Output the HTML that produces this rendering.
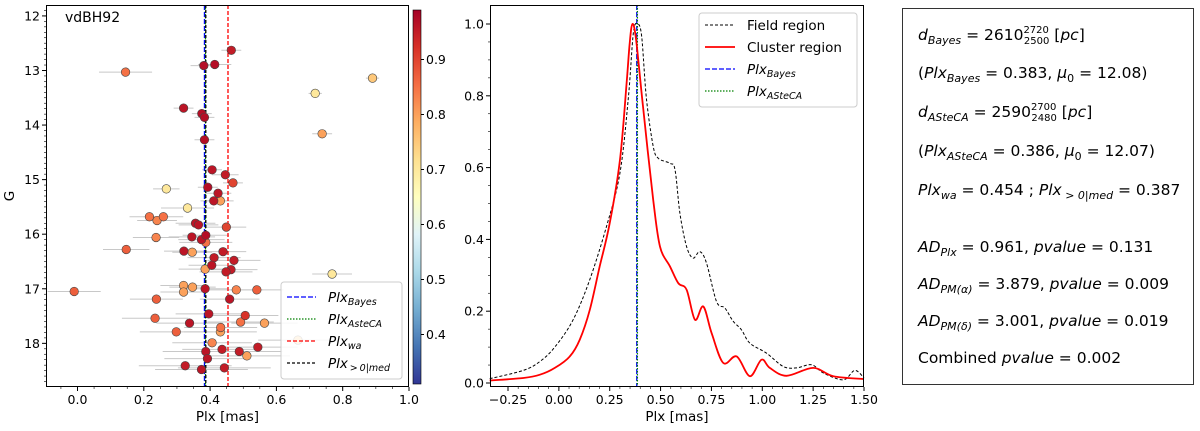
<!DOCTYPE html>
<html><head><meta charset="utf-8"><style>
html,body{margin:0;padding:0;background:#fff;width:1200px;height:431px;overflow:hidden}
svg{display:block;font-family:"DejaVu Sans","Liberation Sans",sans-serif}
</style></head><body>
<svg id="fig" width="1200" height="431" viewBox="0 0 1200 431" xmlns="http://www.w3.org/2000/svg">
<defs>
<linearGradient id="cmap" x1="0" y1="1" x2="0" y2="0">
<stop offset="0" stop-color="#313695"/><stop offset="0.1" stop-color="#4575b4"/><stop offset="0.2" stop-color="#74add1"/><stop offset="0.3" stop-color="#abd9e9"/><stop offset="0.4" stop-color="#e0f3f8"/><stop offset="0.5" stop-color="#ffffbf"/><stop offset="0.6" stop-color="#fee090"/><stop offset="0.7" stop-color="#fdae61"/><stop offset="0.8" stop-color="#f46d43"/><stop offset="0.9" stop-color="#d73027"/><stop offset="1" stop-color="#a50026"/>
</linearGradient>
</defs>
<g id="left"></g>
<g id="mid"></g>
<g id="right">
<rect x="902.5" y="8.5" width="291" height="376" fill="#fff" stroke="#333" stroke-width="1"/>
<g font-size="15.5" fill="#000">
<text x="918" y="40"><tspan font-style="italic">d</tspan><tspan font-style="italic" font-size="11" dy="4">Bayes</tspan><tspan dy="-4"> = 2610</tspan><tspan font-size="10" dy="-7">2720</tspan><tspan font-size="10" dx="-25" dy="11">2500</tspan><tspan dy="-4"> [</tspan><tspan font-style="italic">pc</tspan>]</text>
<text x="918" y="78">(<tspan font-style="italic">Plx</tspan><tspan font-style="italic" font-size="11" dy="4">Bayes</tspan><tspan dy="-4"> = 0.383, </tspan><tspan font-style="italic">μ</tspan><tspan font-size="11" dy="4">0</tspan><tspan dy="-4"> = 12.08)</tspan></text>
<text x="918" y="117"><tspan font-style="italic">d</tspan><tspan font-style="italic" font-size="11" dy="4">ASteCA</tspan><tspan dy="-4"> = 2590</tspan><tspan font-size="10" dy="-7">2700</tspan><tspan font-size="10" dx="-25" dy="11">2480</tspan><tspan dy="-4"> [</tspan><tspan font-style="italic">pc</tspan>]</text>
<text x="918" y="156">(<tspan font-style="italic">Plx</tspan><tspan font-style="italic" font-size="11" dy="4">ASteCA</tspan><tspan dy="-4"> = 0.386, </tspan><tspan font-style="italic">μ</tspan><tspan font-size="11" dy="4">0</tspan><tspan dy="-4"> = 12.07)</tspan></text>
<text x="918" y="195"><tspan font-style="italic">Plx</tspan><tspan font-style="italic" font-size="11" dy="4">wa</tspan><tspan dy="-4"> = 0.454 ; </tspan><tspan font-style="italic">Plx</tspan><tspan font-style="italic" font-size="11" dy="4"> &gt; 0|med</tspan><tspan dy="-4"> = 0.387</tspan></text>
<text x="918" y="252"><tspan font-style="italic">AD</tspan><tspan font-style="italic" font-size="11" dy="4">Plx</tspan><tspan dy="-4"> = 0.961, </tspan><tspan font-style="italic">pvalue</tspan> = 0.131</text>
<text x="918" y="289"><tspan font-style="italic">AD</tspan><tspan font-style="italic" font-size="11" dy="4">PM(α)</tspan><tspan dy="-4"> = 3.879, </tspan><tspan font-style="italic">pvalue</tspan> = 0.009</text>
<text x="918" y="326"><tspan font-style="italic">AD</tspan><tspan font-style="italic" font-size="11" dy="4">PM(δ)</tspan><tspan dy="-4"> = 3.001, </tspan><tspan font-style="italic">pvalue</tspan> = 0.019</text>
<text x="918" y="363">Combined <tspan font-style="italic">pvalue</tspan> = 0.002</text>
</g>
</g>
</svg>
<script>
// ---- left panel data ----
const plxVals=[.464,.381,.414,.145,.89,.717,.32,.375,.383,.738,.383,.406,.446,.469,.268,.393,.424,.411,.431,.332,.217,.259,.24,.356,.365,.449,.387,.345,.374,.387,.237,.147,.321,.346,.439,.412,.472,.405,.463,.448,.385,.768,.32,.347,.385,.32,.479,.541,-.01,.238,.459,.396,.506,.234,.338,.492,.564,.432,.298,.431,.406,.665,.544,.436,.387,.488,.511,.392,.325,.374,.443];
const gMags=[12.63,12.91,12.89,13.03,13.14,13.42,13.69,13.79,13.86,14.16,14.27,14.82,14.91,15.06,15.17,15.14,15.25,15.39,15.39,15.52,15.68,15.68,15.75,15.8,15.83,15.87,16.02,16.05,16.1,16.15,16.06,16.28,16.31,16.33,16.32,16.43,16.48,16.57,16.65,16.69,16.64,16.73,16.94,16.97,17.0,17.06,17.02,17.02,17.05,17.19,17.19,17.46,17.49,17.54,17.63,17.61,17.63,17.71,17.79,17.79,17.99,17.94,18.07,18.11,18.15,18.15,18.23,18.28,18.41,18.48,18.45];
const probs=[.95,.97,.97,.85,.75,.7,.96,.97,.97,.8,.97,.96,.95,.9,.7,.97,.96,.96,.8,.7,.85,.85,.83,.96,.96,.9,.97,.96,.96,.85,.83,.87,.96,.8,.95,.95,.95,.96,.95,.95,.8,.7,.8,.8,.96,.8,.83,.87,.87,.87,.96,.96,.92,.87,.96,.85,.8,.85,.87,.8,.83,.75,.95,.95,.96,.95,.8,.96,.95,.96,.95];
const plxErrs=[.03,.04,.05,.08,.02,.02,.03,.03,.03,.03,.03,.03,.04,.03,.04,.03,.04,.04,.04,.08,.06,.06,.06,.06,.06,.06,.07,.07,.07,.08,.07,.07,.06,.06,.07,.08,.08,.07,.08,.08,.08,.06,.07,.07,.07,.07,.08,.08,.08,.08,.09,.1,.1,.1,.1,.1,.1,.11,.11,.11,.12,.12,.12,.12,.13,.13,.13,.13,.14,.14,.14];
const xTicksL=[0.0,0.2,0.4,0.6,0.8,1.0];
const yTicksL=[12,13,14,15,16,17,18];
const cbTicks=[0.4,0.5,0.6,0.7,0.8,0.9];
// ---- middle panel data ----
const fieldX=[-0.34,-0.175,-0.093,-0.02,0.07,0.152,0.234,0.3,0.341,0.366,0.387,0.407,0.431,0.464,0.489,0.546,0.571,0.595,0.628,0.66,0.693,0.726,0.775,0.816,0.857,0.898,0.939,1.021,1.103,1.168,1.242,1.3,1.398,1.455,1.5];
const fieldY=[0.012,0.035,0.06,0.1,0.176,0.288,0.436,0.584,0.79,0.974,1.0,0.965,0.79,0.659,0.626,0.612,0.594,0.473,0.38,0.348,0.366,0.334,0.227,0.209,0.172,0.148,0.111,0.083,0.046,0.042,0.051,0.028,0.009,0.035,0.014];
const clusterX=[-0.34,-0.175,-0.093,-0.02,0.054,0.103,0.152,0.201,0.25,0.3,0.333,0.348,0.362,0.38,0.414,0.464,0.497,0.546,0.587,0.628,0.669,0.71,0.751,0.808,0.874,0.939,0.996,1.037,1.119,1.25,1.349,1.5];
const clusterY=[0.007,0.014,0.023,0.042,0.074,0.121,0.204,0.325,0.445,0.62,0.835,0.946,1.0,0.954,0.768,0.51,0.38,0.325,0.278,0.26,0.176,0.213,0.139,0.056,0.074,0.019,0.065,0.042,0.02,0.042,0.019,0.011];
const xTicksM=[-0.25,0,0.25,0.5,0.75,1.0,1.25,1.5];
const yTicksM=[0,0.2,0.4,0.6,0.8,1.0];

const NS="http://www.w3.org/2000/svg";
function el(tag,attrs,parent){const e=document.createElementNS(NS,tag);for(const k in attrs)e.setAttribute(k,attrs[k]);parent.appendChild(e);return e;}
function txt(s,attrs,parent){const e=el('text',attrs,parent);e.textContent=s;return e;}

const stops=["#313695","#4575b4","#74add1","#abd9e9","#e0f3f8","#ffffbf","#fee090","#fdae61","#f46d43","#d73027","#a50026"].map(h=>[parseInt(h.slice(1,3),16),parseInt(h.slice(3,5),16),parseInt(h.slice(5,7),16)]);
const cMin=0.31,cMax=0.99;
function cmap(v){let t=(v-cMin)/(cMax-cMin);t=Math.max(0,Math.min(1,t))*10;const i=Math.min(9,Math.floor(t)),f=t-i;const a=stops[i],b=stops[i+1];return `rgb(${a.map((c,k)=>Math.round(c+(b[k]-c)*f)).join(',')})`;}

// ---- left panel ----
const L=document.getElementById('left');
const LX0=46,LX1=409,LY0=5,LY1=387;
const lxMin=-0.095,lxMax=1.0,lyMin=11.8,lyMax=18.8;
const lx=v=>LX0+(v-lxMin)/(lxMax-lxMin)*(LX1-LX0);
const ly=v=>LY0+(v-lyMin)/(lyMax-lyMin)*(LY1-LY0);
el('rect',{x:LX0,y:LY0,width:LX1-LX0,height:LY1-LY0,fill:'#fff'},L);
const errG=el('g',{},L);


plxVals.forEach((p,i)=>{const ln=el('line',{x1:lx(p-plxErrs[i]),x2:lx(p+plxErrs[i]),y1:ly(gMags[i]),y2:ly(gMags[i]),stroke:'#c8c8c8','stroke-width':1},errG);

});
function vline(parent,xf,v,y0,y1,color,dash,name){const ln=el('line',{x1:xf(v),x2:xf(v),y1:y0,y2:y1,stroke:color,'stroke-width':1.3,'stroke-dasharray':dash},parent);}
vline(L,lx,0.454,LY0,LY1,'#f00','4 2','plx-wa-line');
vline(L,lx,0.383,LY0,LY1,'#00f','5 2','plx-bayes-line');
vline(L,lx,0.386,LY0,LY1,'#008000','1.5 1.5','plx-asteca-line');
vline(L,lx,0.387,LY0,LY1,'#000','3 2','plx-med-line');
const ptG=el('g',{},L);


const order=plxVals.map((_,i)=>i).sort((a,b)=>probs[a]-probs[b]);
order.forEach(i=>{const c=el('circle',{cx:lx(plxVals[i]),cy:ly(gMags[i]),r:4.3,fill:cmap(probs[i]),stroke:'#444','stroke-width':0.6},ptG);

});
el('rect',{x:LX0+0.5,y:LY0+0.5,width:LX1-LX0-1,height:LY1-LY0-1,fill:'none',stroke:'#000','stroke-width':1},L);
for(let v=-0.05;v<=1.0001;v+=0.05){const x=lx(v);el('line',{x1:x,x2:x,y1:LY1,y2:LY1+2,stroke:'#000','stroke-width':0.6},L);}
xTicksL.forEach(v=>{const x=lx(v);el('line',{x1:x,x2:x,y1:LY1,y2:LY1+4,stroke:'#000'},L);const t=txt(v.toFixed(1),{x:x,y:LY1+17,'font-size':12.5,'text-anchor':'middle'},L);});
for(let v=11.9;v<=18.8;v+=0.1){const y=ly(v);if(y<LY0||y>LY1)continue;el('line',{x1:LX0-2,x2:LX0,y1:y,y2:y,stroke:'#000','stroke-width':0.6},L);}
yTicksL.forEach(v=>{const y=ly(v);el('line',{x1:LX0-4,x2:LX0,y1:y,y2:y,stroke:'#000'},L);const t=txt(String(v),{x:LX0-6,y:y+4.5,'font-size':12.5,'text-anchor':'end'},L);});
let t=txt('Plx [mas]',{x:(LX0+LX1)/2,y:421,'font-size':13.5,'text-anchor':'middle'},L);
t=txt('G',{x:14,y:(LY0+LY1)/2,'font-size':13.5,'text-anchor':'middle',transform:`rotate(-90 14 ${(LY0+LY1)/2})`},L);
t=txt('vdBH92',{x:65,y:22,'font-size':14},L);
const lg=el('g',{},L);


el('rect',{x:281,y:282,width:121,height:97,rx:3,fill:'#fff','fill-opacity':0.85,stroke:'#ccc'},lg);
[['#00f','5 2','Bayes'],['#008000','1.5 1.5','AsteCA'],['#f00','4 2','wa'],['#000','3 2','\u2009>\u20090|med']].forEach((d,i)=>{const y=297+i*22;el('line',{x1:287,x2:316,y1:y,y2:y,stroke:d[0],'stroke-width':1.3,'stroke-dasharray':d[1]},lg);const tt=el('text',{x:328,y:y+5,'font-size':13.5,'font-style':'italic'},lg);tt.innerHTML=`Plx<tspan font-size="9.5" dy="3">${d[2]}</tspan>`;});
const cb=el('rect',{x:413,y:10,width:8,height:374,fill:'url(#cmap)',stroke:'#000','stroke-width':0.6},L);


const cy=v=>384-(v-cMin)/(cMax-cMin)*374;
cbTicks.forEach(v=>{const y=cy(v);el('line',{x1:421,x2:424,y1:y,y2:y,stroke:'#000'},L);const tt=txt(v.toFixed(1),{x:426,y:y+4.5,'font-size':12.5},L);});

// ---- middle panel ----
const M=document.getElementById('mid');
const MX0=490,MX1=864,MY0=5,MY1=387;
const mxMin=-0.3385,mxMax=1.5;
const mx=v=>MX0+(v-mxMin)/(mxMax-mxMin)*(MX1-MX0);
const my=v=>383-v*359;
el('rect',{x:MX0,y:MY0,width:MX1-MX0,height:MY1-MY0,fill:'#fff'},M);
vline(M,mx,0.383,MY0,MY1,'#00f','5 2','kde-plx-bayes-line');
vline(M,mx,0.386,MY0,MY1,'#008000','1.5 1.5','kde-plx-asteca-line');
function smoothPath(P){let d=`M${P[0][0].toFixed(1)},${P[0][1].toFixed(1)}`;for(let i=0;i<P.length-1;i++){const p0=P[Math.max(0,i-1)],p1=P[i],p2=P[i+1],p3=P[Math.min(P.length-1,i+2)];const c1=[p1[0]+(p2[0]-p0[0])/6,p1[1]+(p2[1]-p0[1])/6],c2=[p2[0]-(p3[0]-p1[0])/6,p2[1]-(p3[1]-p1[1])/6];d+=`C${c1[0].toFixed(1)},${c1[1].toFixed(1)} ${c2[0].toFixed(1)},${c2[1].toFixed(1)} ${p2[0].toFixed(1)},${p2[1].toFixed(1)}`;}return d;}
function curve(xs,ys,color,dash,w,name){const p=el('path',{d:smoothPath(xs.map((x,i)=>[mx(x),my(ys[i])])),fill:'none',stroke:color,'stroke-width':w,'stroke-dasharray':dash,'stroke-linejoin':'round'},M);}
curve(fieldX,fieldY,'#000','3 2',1,'field-region-curve');
curve(clusterX,clusterY,'#f00','none',1.8,'cluster-region-curve');
el('rect',{x:MX0+0.5,y:MY0+0.5,width:MX1-MX0-1,height:MY1-MY0-1,fill:'none',stroke:'#000'},M);
for(let v=-0.25;v<=1.5001;v+=0.05){const x=mx(v);el('line',{x1:x,x2:x,y1:MY1,y2:MY1+2,stroke:'#000','stroke-width':0.6},M);}
xTicksM.forEach(v=>{const x=mx(v);el('line',{x1:x,x2:x,y1:MY1,y2:MY1+4,stroke:'#000'},M);const tt=txt((v<0?'\u2212':'')+Math.abs(v).toFixed(2),{x:x,y:MY1+17,'font-size':12.5,'text-anchor':'middle'},M);});
for(let v=0;v<=1.0001;v+=0.05){const y=my(v);el('line',{x1:MX0-2,x2:MX0,y1:y,y2:y,stroke:'#000','stroke-width':0.6},M);}
yTicksM.forEach(v=>{const y=my(v);el('line',{x1:MX0-4,x2:MX0,y1:y,y2:y,stroke:'#000'},M);const tt=txt(v.toFixed(1),{x:MX0-6,y:y+4.5,'font-size':12.5,'text-anchor':'end'},M);});
t=txt('Plx [mas]',{x:(MX0+MX1)/2,y:421,'font-size':13.5,'text-anchor':'middle'},M);
const mg=el('g',{},M);


el('rect',{x:699,y:13,width:158,height:94,rx:3,fill:'#fff','fill-opacity':0.85,stroke:'#ccc'},mg);
[['#000','3 2',1,'Field region',false],['#f00','none',1.8,'Cluster region',false],['#00f','5 2',1.3,'Bayes',true],['#008000','1.5 1.5',1.3,'ASteCA',true]].forEach((d,i)=>{const y=25+i*22;el('line',{x1:705,x2:735,y1:y,y2:y,stroke:d[0],'stroke-width':d[2],'stroke-dasharray':d[1]},mg);const tt=el('text',{x:747,y:y+5,'font-size':13.5},mg);if(d[4])tt.innerHTML=`<tspan font-style="italic">Plx</tspan><tspan font-style="italic" font-size="9.5" dy="3">${d[3]}</tspan>`;else tt.textContent=d[3];});
</script>
</body></html>
